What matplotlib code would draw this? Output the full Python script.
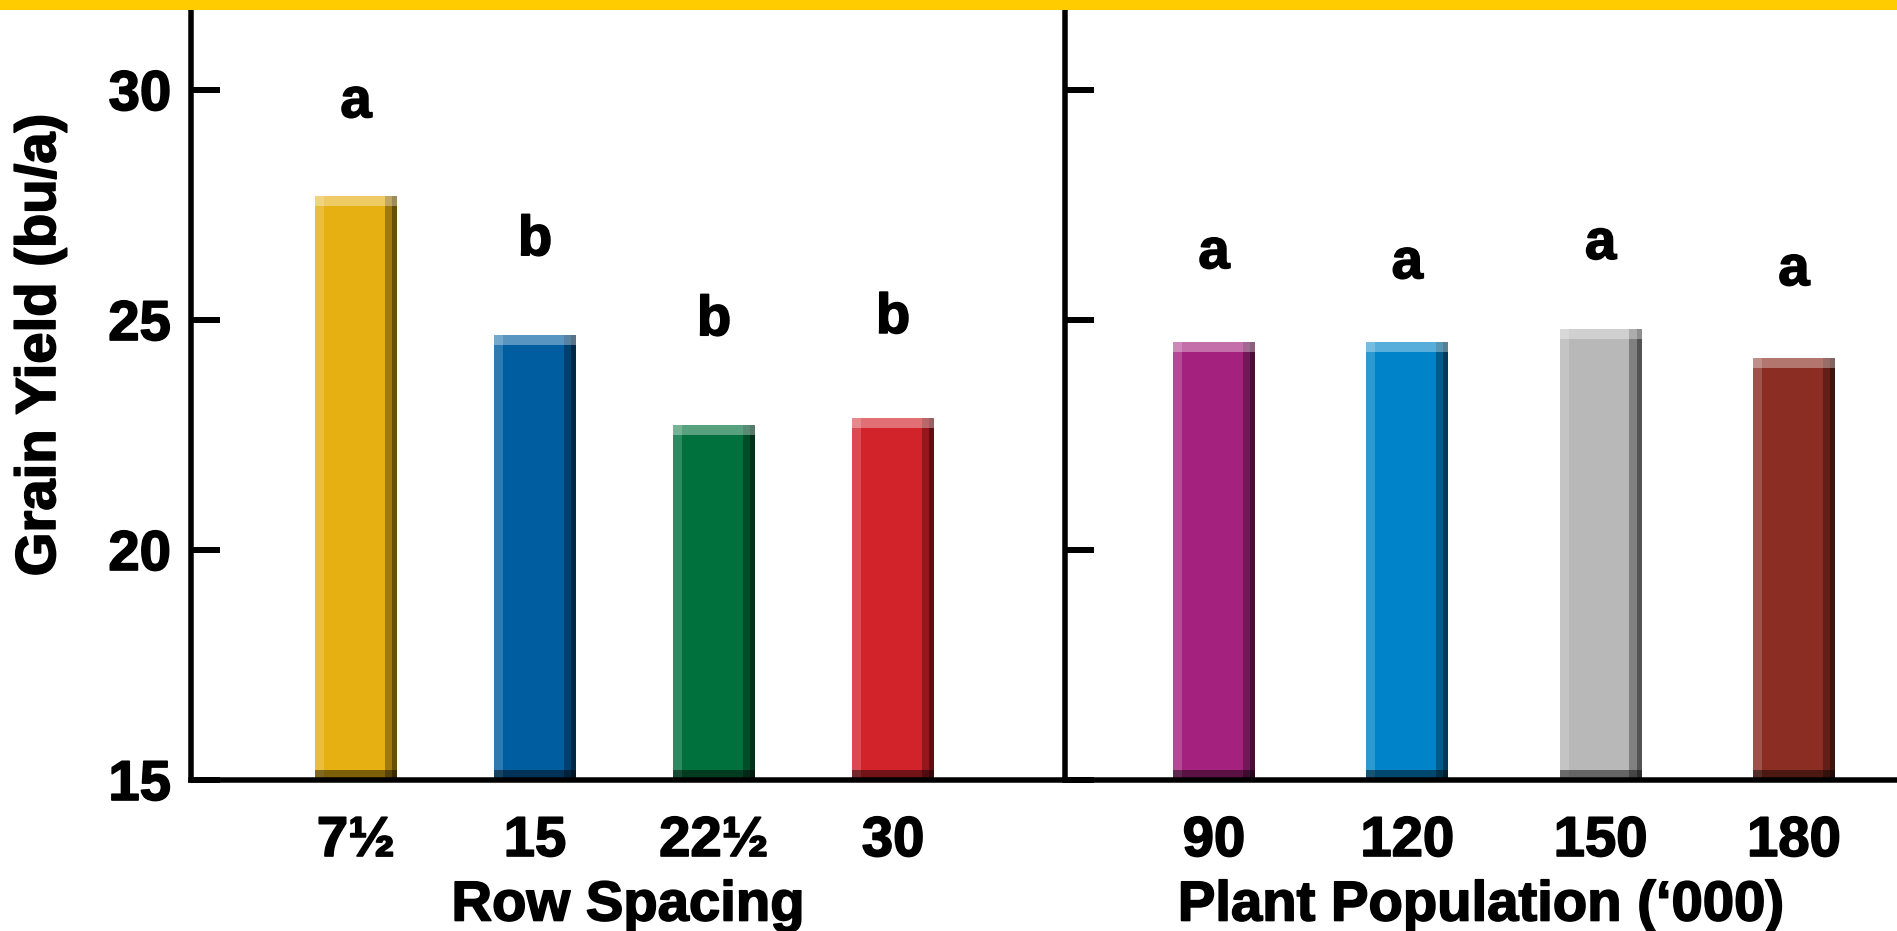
import matplotlib
matplotlib.use("Agg")
import matplotlib.pyplot as plt
import matplotlib.patheffects as pe
from matplotlib.patches import Rectangle

plt.rcParams["font.family"] = ["Liberation Sans", "DejaVu Sans"]
plt.rcParams["font.weight"] = "bold"

# =============================================================================
# DATA
# =============================================================================

row_labels   = ["7½", "15", "22½", "30"]
row_yield    = [27.70, 24.67, 22.72, 22.86]
row_letters  = ["a", "b", "b", "b"]
row_letter_y = [29.41, 26.41, 24.67, 24.72]
row_colors   = ["#E6B012", "#005DA0", "#00703C", "#D2232A"]

pop_labels   = ["90", "120", "150", "180"]
pop_yield    = [24.52, 24.52, 24.80, 24.17]
pop_letters  = ["a", "a", "a", "a"]
pop_letter_y = [26.13, 25.91, 26.33, 25.76]
pop_colors   = ["#A5217E", "#0083C8", "#B8B8B8", "#8B2D22"]

y_ticks = [15, 20, 25, 30]

# =============================================================================

W, H, DPI = 1897, 931, 100
Y0, Y1 = 15, 31.74
PX = 770 / (Y1 - Y0)          # pixels per y unit
FS = 40.5
PT = 72 / DPI                 # points per pixel
HEAVY = [pe.withStroke(linewidth=1.2, foreground="black")]


def draw_bars(ax, values, colors, bw):
    for i, (v, c) in enumerate(zip(values, colors)):
        h = v - Y0
        ax.bar(i, h, bottom=Y0, width=bw, color=c, linewidth=0, zorder=2)
        # bevel: light left edge, dark right edge, light top, dark bottom
        ax.bar(i - bw / 2, h, bottom=Y0, width=bw * 0.11, align="edge",
               color="white", alpha=0.18, linewidth=0, zorder=3)
        ax.bar(i + bw / 2 - bw * 0.15, h, bottom=Y0, width=bw * 0.15, align="edge",
               color="black", alpha=0.30, linewidth=0, zorder=3)
        ax.bar(i + bw / 2 - bw * 0.06, h, bottom=Y0, width=bw * 0.06, align="edge",
               color="black", alpha=0.35, linewidth=0, zorder=3)
        tb = 10 / PX
        ax.bar(i, tb, bottom=v - tb, width=bw, color="white", alpha=0.35,
               linewidth=0, zorder=4)
        bb = 10 / PX
        ax.bar(i, bb, bottom=Y0, width=bw, color="black", alpha=0.45,
               linewidth=0, zorder=4)


def style_axes(ax, labels, xlabel, show_ylabels):
    ax.set_ylim(Y0, Y1)
    ax.set_yticks(y_ticks)
    for s in ("top", "right"):
        ax.spines[s].set_visible(False)
    for s in ("left", "bottom"):
        ax.spines[s].set_linewidth(5.5 * PT)
        ax.spines[s].set_zorder(6)
    ax.tick_params(axis="y", direction="in", length=29 * PT, width=6 * PT,
                   pad=20 * PT, labelsize=FS, labelleft=show_ylabels)
    ax.set_xticks(range(len(labels)), labels=labels)
    ax.tick_params(axis="x", length=0, pad=36 * PT, labelsize=FS)
    for t in ax.get_xticklabels() + ax.get_yticklabels():
        t.set_fontweight("bold")
        t.set_path_effects(HEAVY)
    ax.set_xlabel(xlabel, fontsize=FS, fontweight="bold", labelpad=9,
                  path_effects=HEAVY)
    ax.patch.set_alpha(0)


fig = plt.figure(figsize=(W / DPI, H / DPI), dpi=DPI)

# yellow band at the top
fig.patches.append(Rectangle((0, 1 - 10 / H), 1, 10 / H, transform=fig.transFigure,
                             facecolor="#FFCC00", edgecolor="none", zorder=0))

bottom = (H - 780) / H
height = 770 / H

ax1 = fig.add_axes([191 / W, bottom, (1065 - 191) / W, height])
ax1.set_xlim((191 - 356) / 179, (1065 - 356) / 179)
draw_bars(ax1, row_yield, row_colors, 82 / 179)
style_axes(ax1, row_labels, "Row Spacing", True)
for i, (l, y) in enumerate(zip(row_letters, row_letter_y)):
    ax1.text(i, y, l, ha="center", va="baseline", fontsize=FS, fontweight="bold",
             path_effects=HEAVY)

ax2 = fig.add_axes([1065 / W, bottom, (W - 1065) / W, height])
ax2.set_xlim((1065 - 1214) / 193.3, (W - 1214) / 193.3)
draw_bars(ax2, pop_yield, pop_colors, 82 / 193.3)
style_axes(ax2, pop_labels, "Plant Population (\u2018000)", False)
for i, (l, y) in enumerate(zip(pop_letters, pop_letter_y)):
    ax2.text(i, y, l, ha="center", va="baseline", fontsize=FS, fontweight="bold",
             path_effects=HEAVY)

fig.text(41 / W, 1 - 345 / H, "Grain Yield (bu/a)", rotation=90, ha="center",
         va="center", fontsize=FS, fontweight="bold", path_effects=HEAVY)

fig.savefig("out.png", dpi=DPI)
